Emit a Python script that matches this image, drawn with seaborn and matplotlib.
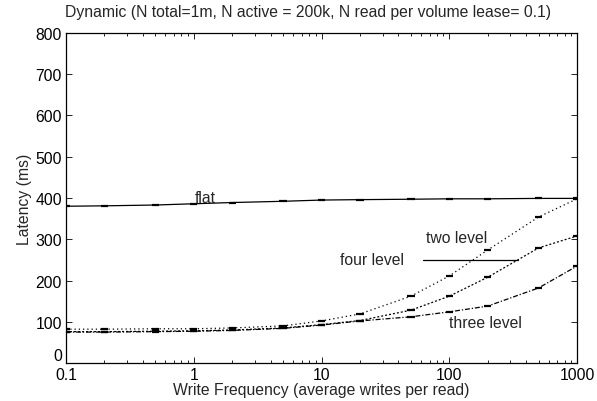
import matplotlib
matplotlib.use("Agg")
import matplotlib.pyplot as plt
import matplotlib.ticker as mticker
import seaborn as sns
import pandas as pd

# Write frequency (average writes per read)
write_freq = [0.1, 0.2, 0.5, 1, 2, 5, 10, 20, 50, 100, 200, 500, 1000]

# Latency in ms for each hierarchy
flat = [380, 381, 383, 386, 389, 392, 395, 396, 397, 398, 398, 399, 399]
two_level = [82, 82, 83, 83, 85, 90, 102, 119, 162, 211, 274, 354, 398]
four_level = [76, 76, 77, 78, 80, 85, 93, 103, 128, 162, 208, 279, 308]
three_level = [75, 75, 76, 77, 79, 84, 92, 102, 112, 124, 138, 182, 235]

series_names = ["flat", "two level", "four level", "three level"]
series_values = [flat, two_level, four_level, three_level]

df = pd.concat(
    [pd.DataFrame({"freq": write_freq, "latency": v, "scheme": n})
     for n, v in zip(series_names, series_values)],
    ignore_index=True,
)

sns.set_theme(style="ticks")
plt.rcParams["font.family"] = ["Liberation Sans", "DejaVu Sans"]
FS = 11.3

fig = plt.figure(figsize=(5.97, 4.02), dpi=100)
ax = fig.add_axes([0.1106, 0.0945, 0.856, 0.821])

dashes = {
    "flat": (1, 0),
    "two level": (1, 2.4),
    "four level": (1.6, 1.6),
    "three level": (4, 1.5, 1, 1.5),
}
palette = {n: "black" for n in series_names}

sns.lineplot(
    data=df, x="freq", y="latency", hue="scheme", style="scheme",
    palette=palette, dashes=dashes, linewidth=0.9, legend=False, ax=ax,
)
# Point markers at each measured write frequency
sns.scatterplot(
    data=df, x="freq", y="latency", hue="scheme", palette=palette,
    marker="_", s=28, linewidth=1.6, legend=False, ax=ax, zorder=3,
)

ax.set_xscale("log")
ax.set_xlim(0.1, 1000)
ax.set_ylim(0, 800)
ax.set_yticks(range(0, 801, 100))
ax.xaxis.set_major_formatter(mticker.FuncFormatter(lambda v, p: f"{v:g}"))
ax.xaxis.set_minor_formatter(mticker.NullFormatter())
ax.tick_params(which="both", direction="in", top=True, right=True,
               labelsize=FS, color="black", labelcolor="black")
ax.tick_params(which="major", length=4, width=0.6, pad=3)
ax.tick_params(which="minor", length=2.5, width=0.6)
for s in ax.spines.values():
    s.set_linewidth(0.9)
    s.set_color("black")

# Lift the "0" label a little so it clears the "0.1" label below
ylabels = ax.get_yticklabels()
ylabels[0].set_va("bottom")

ax.set_xlabel("Write Frequency (average writes per read)", fontsize=FS, labelpad=0)
ax.set_ylabel("Latency (ms)", fontsize=FS, labelpad=2)
fig.text(308 / 597, 1 - 12 / 402,
         "Dynamic (N total=1m, N active = 200k, N read per volume lease= 0.1)",
         fontsize=FS, ha="center", va="center")

# Curve labels
ax.text(1.22, 402, "flat", fontsize=FS, ha="center", va="center")
ax.text(115, 305, "two level", fontsize=FS, ha="center", va="center")
ax.text(24.8, 250, "four level", fontsize=FS, ha="center", va="center")
ax.text(191, 99, "three level", fontsize=FS, ha="center", va="center")
ax.plot([62, 347], [250, 250], color="black", linewidth=0.9)

fig.savefig("out.png", dpi=100)
